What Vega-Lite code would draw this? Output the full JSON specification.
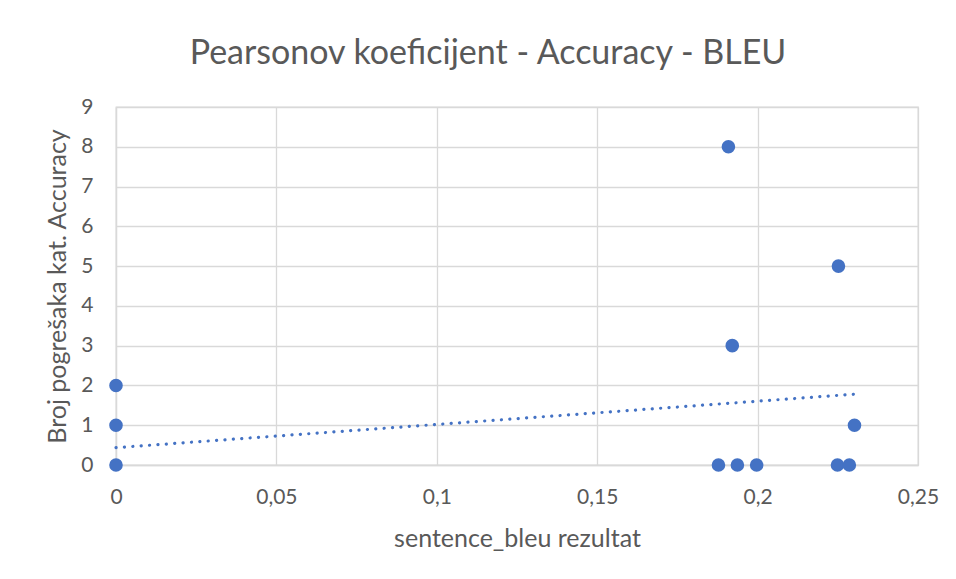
{
  "$schema": "https://vega.github.io/schema/vega-lite/v6.json",
  "width": 802,
  "height": 358,
  "autosize": {"type": "none"},
  "padding": {"left": 116, "top": 107, "right": 38, "bottom": 114},
  "background": "white",
  "title": {
    "text": "Pearsonov koeficijent - Accuracy - BLEU",
    "font": "Lato",
    "fontSize": 34,
    "fontWeight": "normal",
    "color": "#595959",
    "anchor": "middle",
    "dx": -29,
    "offset": 25
  },
  "datasets": {
    "points": [
      {"bleu": 0, "broj": 0},
      {"bleu": 0, "broj": 1},
      {"bleu": 0, "broj": 2},
      {"bleu": 0.1878, "broj": 0},
      {"bleu": 0.1937, "broj": 0},
      {"bleu": 0.1997, "broj": 0},
      {"bleu": 0.2249, "broj": 0},
      {"bleu": 0.2286, "broj": 0},
      {"bleu": 0.2302, "broj": 1},
      {"bleu": 0.1909, "broj": 8},
      {"bleu": 0.1921, "broj": 3},
      {"bleu": 0.2252, "broj": 5}
    ],
    "trend": [
      {"bleu": 0, "broj": 0.435},
      {"bleu": 0.2302, "broj": 1.78}
    ]
  },
  "encoding": {
    "x": {
      "field": "bleu", "type": "quantitative",
      "scale": {"domain": [0, 0.25], "nice": false},
      "axis": {
        "title": "sentence_bleu rezultat",
        "values": [0, 0.05, 0.1, 0.15, 0.2, 0.25],
        "labelExpr": "replace(format(datum.value, '.2~f'), '.', ',')",
        "labelFlush": false, "labelOverlap": false,
        "grid": true, "gridColor": "#d9d9d9", "gridWidth": 1.3,
        "domain": true, "domainColor": "#d9d9d9", "domainWidth": 1.3,
        "ticks": false,
        "labelFont": "Lato", "labelFontSize": 21, "labelColor": "#595959", "labelPadding": 21,
        "titleFont": "Lato", "titleFontSize": 25, "titleFontWeight": "normal", "titleColor": "#595959", "titlePadding": 19
      }
    },
    "y": {
      "field": "broj", "type": "quantitative",
      "scale": {"domain": [0, 9], "nice": false},
      "axis": {
        "title": "Broj pogrešaka kat. Accuracy",
        "values": [0, 1, 2, 3, 4, 5, 6, 7, 8, 9],
        "labelFlush": false, "labelOverlap": false,
        "grid": true, "gridColor": "#d9d9d9", "gridWidth": 1.3,
        "domain": true, "domainColor": "#d9d9d9", "domainWidth": 1.3,
        "ticks": false,
        "labelFont": "Lato", "labelFontSize": 21, "labelColor": "#595959", "labelPadding": 23,
        "titleFont": "Lato", "titleFontSize": 25, "titleFontWeight": "normal", "titleColor": "#595959", "titlePadding": 10
      }
    }
  },
  "layer": [
    {
      "data": {"name": "trend"},
      "mark": {"type": "line", "color": "#4472C4", "strokeWidth": 3.2, "strokeDash": [0.1, 8.3], "strokeCap": "round"}
    },
    {
      "data": {"name": "points"},
      "mark": {"type": "circle", "color": "#4472C4", "opacity": 1, "size": 185}
    }
  ],
  "config": {
    "view": {"stroke": "#d9d9d9", "strokeWidth": 1.3}
  }
}
